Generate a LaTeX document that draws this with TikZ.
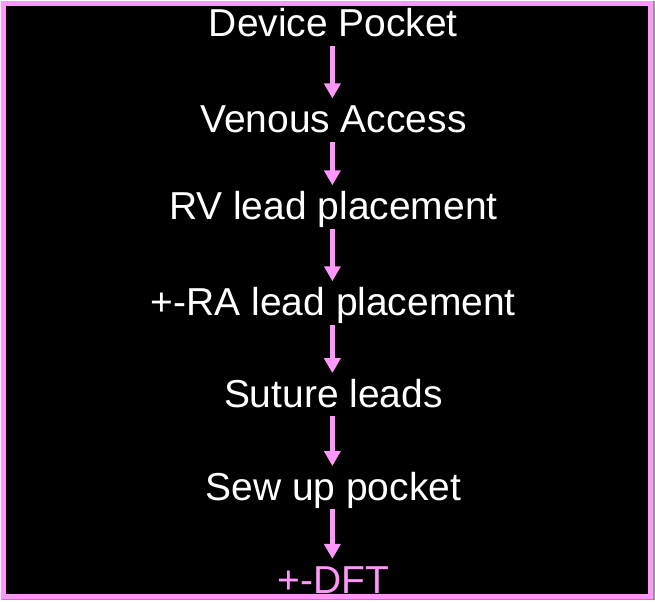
\documentclass[tikz,border=0pt]{standalone}
\usepackage{fontspec}
\setmainfont{Liberation Sans}
\usetikzlibrary{arrows.meta}
\definecolor{pinkline}{RGB}{255,150,250}
\definecolor{edgegray}{RGB}{150,150,150}
\begin{document}
\begin{tikzpicture}[x=1pt, y=-1pt,
    stepbox/.style={text=white, font=\fontsize{39}{42}\selectfont, anchor=base,
      inner sep=0pt, text height=34pt, text depth=9pt},
    flow/.style={pinkline, line width=4.5pt, -{Triangle[width=16pt,length=15pt]}}]
      % \draw[step=10pt, gray, very thin] (0, 0) grid (655, 600);
      \fill[black] (0, 0) rectangle (655, 600);
      \draw[pinkline, line width=5pt] (2.5, 2.5) rectangle (650.5, 596);
      \draw[edgegray, line width=1.5pt] (654, 0) -- (654, 599.2) -- (0, 599.2);

      \node[stepbox] (dev) at (333, 36) {Device Pocket};
      \node[stepbox] (ven) at (333, 132) {Venous Access};
      \node[stepbox] (rv) at (333, 219) {RV lead placement};
      \node[stepbox] (ra) at (333, 315) {+-RA lead placement};
      \node[stepbox] (sut) at (333, 407) {Suture leads};
      \node[stepbox] (sew) at (333, 500) {Sew up pocket};
      \node[stepbox, text=pinkline] (dft) at (333, 593) {+-DFT};

      \draw[flow] (dev.south -| 332, 0) -- (ven.north -| 332, 0);
      \draw[flow] (ven.south -| 332, 0) -- (rv.north -| 332, 0);
      \draw[flow] (rv.south -| 332, 0) -- (ra.north -| 332, 0);
      \draw[flow] (ra.south -| 332, 0) -- (sut.north -| 332, 0);
      \draw[flow] (sut.south -| 332, 0) -- (sew.north -| 332, 0);
      \draw[flow] (sew.south -| 332, 0) -- (dft.north -| 332, 0);
    \end{tikzpicture}
\end{document}
